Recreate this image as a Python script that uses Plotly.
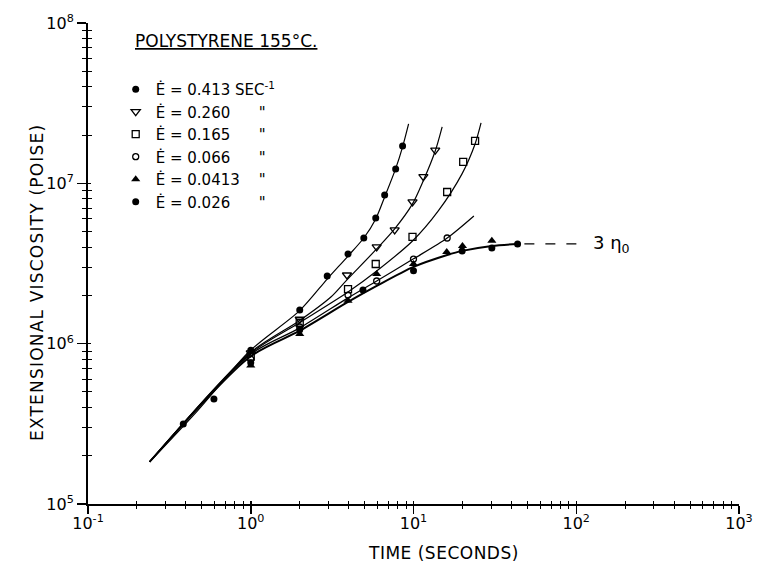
import numpy as np
import plotly.graph_objects as go

# ---------------- data ----------------
# measured points: time (s), extensional viscosity (poise)
t_0413 = [0.385, 0.594, 1.0, 2.0, 2.95, 3.96, 4.95, 5.86, 6.65, 7.77, 8.57]
eta_0413 = [3.16e5, 4.52e5, 9.1e5, 1.62e6, 2.64e6, 3.63e6, 4.56e6, 6.08e6, 8.47e6, 1.23e7, 1.71e7]

t_0260 = [1.0, 2.0, 3.9, 5.94, 7.66, 9.86, 11.5, 13.6]
eta_0260 = [8.75e5, 1.42e6, 2.68e6, 4.01e6, 5.12e6, 7.66e6, 1.10e7, 1.61e7]

t_0165 = [1.0, 2.0, 3.96, 5.86, 9.86, 16.1, 20.2, 23.9]
eta_0165 = [8.3e5, 1.35e6, 2.19e6, 3.14e6, 4.63e6, 8.83e6, 1.36e7, 1.84e7]

t_0066 = [1.0, 2.0, 3.96, 5.94, 10.0, 16.1]
eta_0066 = [8.0e5, 1.27e6, 2.01e6, 2.46e6, 3.37e6, 4.56e6]

t_00413 = [1.0, 2.0, 3.96, 5.94, 10.0, 16.0, 20.0, 30.3]
eta_00413 = [7.3e5, 1.15e6, 1.85e6, 2.72e6, 3.14e6, 3.73e6, 4.07e6, 4.38e6]

t_0026 = [1.0, 2.0, 4.89, 10.0, 19.9, 30.3, 43.6]
eta_0026 = [7.6e5, 1.22e6, 2.16e6, 2.85e6, 3.79e6, 3.95e6, 4.19e6]

# drawn curves
fit_0413_t = [0.239, 0.469, 0.986, 1.99, 2.95, 3.96, 4.95, 5.86, 6.65, 7.76, 8.57, 9.33]
fit_0413_eta = [1.83e5, 3.80e5, 9.0e5, 1.60e6, 2.53e6, 3.52e6, 4.56e6, 6.0e6, 8.22e6, 1.23e7, 1.69e7, 2.35e7]

fit_0260_t = [0.239, 0.986, 1.99, 3.12, 3.90, 5.94, 7.66, 9.86, 11.5, 13.6, 15.0]
fit_0260_eta = [1.83e5, 8.75e5, 1.39e6, 1.96e6, 2.50e6, 3.90e6, 5.20e6, 7.44e6, 1.04e7, 1.59e7, 2.25e7]

fit_0165_t = [0.239, 0.986, 1.99, 3.96, 5.94, 9.86, 14.2, 19.9, 23.9, 26.0]
fit_0165_eta = [1.83e5, 8.63e5, 1.35e6, 2.10e6, 2.84e6, 4.37e6, 6.73e6, 1.15e7, 1.76e7, 2.38e7]

fit_0066_t = [0.239, 0.986, 1.99, 3.96, 5.94, 10.0, 16.1, 23.5]
fit_0066_eta = [1.83e5, 8.51e5, 1.25e6, 1.93e6, 2.46e6, 3.38e6, 4.56e6, 6.26e6]

fit_base_t = [0.239, 0.986, 1.99, 3.96, 5.94, 10.0, 16.1, 19.9, 30.3, 43.6]
fit_base_eta = [1.83e5, 8.26e5, 1.20e6, 1.82e6, 2.29e6, 3.01e6, 3.57e6, 3.79e6, 4.07e6, 4.19e6]

# 3 * zero-shear viscosity asymptote
asym_t = [48.0, 112.0]
asym_eta = [4.19e6, 4.19e6]
asym_label_t = 123.0

# tick labels
x_tick_vals = [0.1, 1, 10, 100, 1000]
x_tick_text = ["10<sup>-1</sup>", "10<sup>0</sup>", "10<sup>1</sup>", "10<sup>2</sup>", "10<sup>3</sup>"]
y_tick_vals = [1e5, 1e6, 1e7, 1e8]
y_tick_text = ["10<sup>5</sup>", "10<sup>6</sup>", "10<sup>7</sup>", "10<sup>8</sup>"]

legend_title = "<u>POLYSTYRENE 155°C.</u>"
NB = "\u00a0"
series_labels = [
    "Ė = 0.413 SEC<sup>-1</sup>",
    "Ė = 0.260" + NB * 6 + "\"",
    "Ė = 0.165" + NB * 6 + "\"",
    "Ė = 0.066" + NB * 6 + "\"",
    "Ė = 0.0413" + NB * 4 + "\"",
    "Ė = 0.026" + NB * 6 + "\"",
]

x_title = "TIME (SECONDS)"
y_title = "EXTENSIONAL VISCOSITY (POISE)"

# ---------------- figure ----------------
FONT = "DejaVu Sans, Liberation Sans, sans-serif"
FS = 16
fig = go.Figure()

def curve(t, e, width=1.2):
    fig.add_trace(go.Scatter(x=t, y=e, mode="lines", line=dict(color="black", width=width, shape="spline", smoothing=0.8),
                             showlegend=False, hoverinfo="skip"))

curve(fit_0413_t, fit_0413_eta)
curve(fit_0260_t, fit_0260_eta)
curve(fit_0165_t, fit_0165_eta)
curve(fit_0066_t, fit_0066_eta)
curve(fit_base_t, fit_base_eta, width=2.0)

markers = [
    (t_0413, eta_0413, dict(symbol="circle", size=7, color="black")),
    (t_0260, eta_0260, dict(symbol="triangle-down-open", size=8, color="black", line=dict(width=1.3, color="black"))),
    (t_0165, eta_0165, dict(symbol="square-open", size=7, color="black", line=dict(width=1.3, color="black"))),
    (t_0066, eta_0066, dict(symbol="circle-open", size=6, color="black", line=dict(width=1.3, color="black"))),
    (t_00413, eta_00413, dict(symbol="triangle-up", size=8, color="black")),
    (t_0026, eta_0026, dict(symbol="circle", size=7, color="black")),
]
for (t, e, m), name in zip(markers, series_labels):
    fig.add_trace(go.Scatter(x=t, y=e, mode="markers", marker=m, name=name, showlegend=True))

# dashed asymptote on the overlay axes (keeps the overlay axes alive for crossing ticks)
fig.add_trace(go.Scatter(x=asym_t, y=asym_eta, mode="lines", xaxis="x2", yaxis="y2",
                         line=dict(color="black", width=1.3, dash="10px,11px"), showlegend=False, hoverinfo="skip"))

x_minor = [m * 10.0 ** d for d in range(-1, 3) for m in range(2, 10)]
y_minor = [m * 10.0 ** d for d in range(5, 8) for m in range(2, 10)]

common = dict(type="log", showgrid=False, zeroline=False)
fig.update_layout(
    width=765, height=566,
    margin=dict(l=88, r=19, t=22, b=62),
    paper_bgcolor="white", plot_bgcolor="white",
    font=dict(family=FONT, size=FS, color="black"),
    xaxis=dict(**common, range=[-1, 3], showline=True, linecolor="black", linewidth=2,
               tickmode="array", tickvals=x_tick_vals, ticktext=x_tick_text,
               ticks="outside", ticklen=8, tickwidth=1.5, tickcolor="black", ticklabelstandoff=-4,
               minor=dict(tickmode="array", tickvals=x_minor, ticks="outside", ticklen=3, tickwidth=1, tickcolor="black", showgrid=False),
               tickfont=dict(size=FS)),
    yaxis=dict(**common, range=[5, 8], showline=True, linecolor="black", linewidth=2,
               tickmode="array", tickvals=y_tick_vals, ticktext=y_tick_text,
               ticks="outside", ticklen=9, tickwidth=1.5, tickcolor="black",
               minor=dict(tickmode="array", tickvals=y_minor, ticks="outside", ticklen=4, tickwidth=1, tickcolor="black", showgrid=False),
               tickfont=dict(size=FS)),
    xaxis2=dict(**common, range=[-1, 3], overlaying="x", anchor="y2", side="bottom", showline=False,
                tickmode="array", tickvals=x_tick_vals, showticklabels=False,
                ticks="inside", ticklen=3, tickwidth=1.5, tickcolor="black",
                minor=dict(tickmode="array", tickvals=x_minor, ticks="inside", ticklen=3, tickwidth=1, tickcolor="black", showgrid=False)),
    yaxis2=dict(**common, range=[5, 8], overlaying="y", anchor="x2", side="left", showline=False,
                tickmode="array", tickvals=y_tick_vals, showticklabels=False,
                ticks="inside", ticklen=3, tickwidth=1.5, tickcolor="black",
                minor=dict(tickmode="array", tickvals=y_minor, ticks="inside", ticklen=4, tickwidth=1, tickcolor="black", showgrid=False)),
    showlegend=True,
    legend=dict(x=(116 - 88) / 658, y=(504 - 72) / 482, xanchor="left", yanchor="top", bgcolor="rgba(0,0,0,0)",
                font=dict(size=15), itemwidth=30, tracegroupgap=0),
)

fig.add_annotation(x=(133 - 88) / 658, y=(504 - 40) / 482, xref="paper", yref="paper", text=legend_title,
                   showarrow=False, xanchor="left", yanchor="middle", font=dict(size=17))
fig.add_annotation(x=np.log10(asym_label_t), y=np.log10(asym_eta[0]), xref="x", yref="y",
                   text="3 η<sub>0</sub>", showarrow=False, xanchor="left", yanchor="middle", font=dict(size=18))
fig.add_annotation(x=(447 - 88) / 658, y=(504 - 553) / 482, xref="paper", yref="paper",
                   text='<span style="letter-spacing:0.5px">' + x_title + '</span>',
                   showarrow=False, xanchor="center", yanchor="middle", font=dict(size=17))
fig.add_annotation(x=(37 - 88) / 658, y=(504 - 282) / 482, xref="paper", yref="paper",
                   text='<span style="letter-spacing:1.2px">' + y_title + '</span>', textangle=-90,
                   showarrow=False, xanchor="center", yanchor="middle", font=dict(size=17))

fig.write_html("out.html", config={"displayModeBar": False, "staticPlot": True},
               post_script="document.body.style.margin='0px';document.body.style.overflow='hidden';")
